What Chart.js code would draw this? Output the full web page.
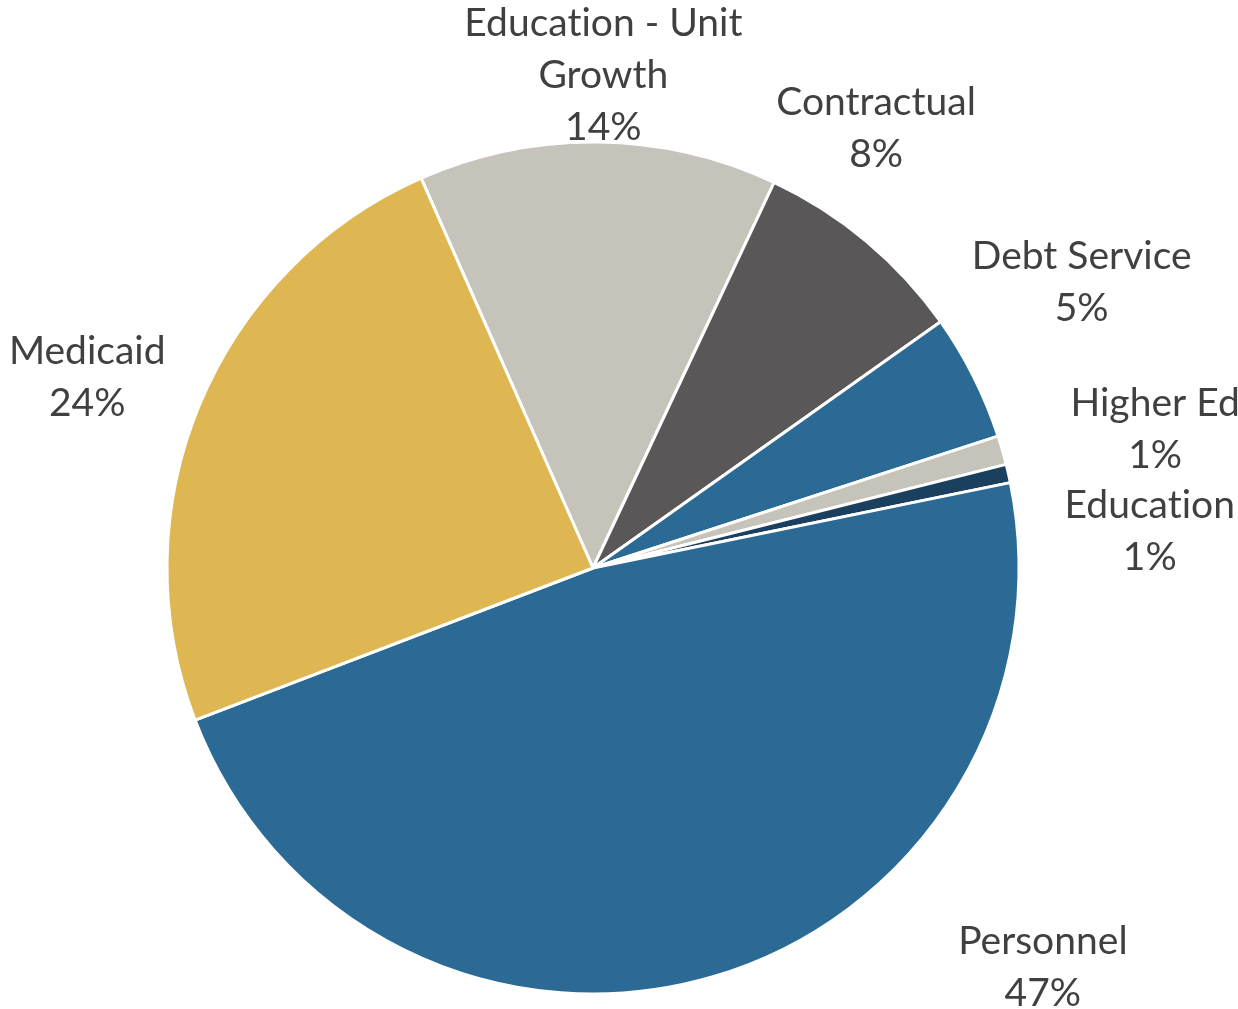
<!DOCTYPE html>
<html>
<head>
<meta charset="utf-8">
<script src="https://cdn.jsdelivr.net/npm/chart.js@4/dist/chart.umd.min.js"></script>
<style>
  html, body { margin: 0; padding: 0; background: #fff; }
  #wrap { width: 1238px; height: 1009px; position: relative; }
</style>
</head>
<body>
<div id="wrap"><canvas id="budgetPie"></canvas></div>
<script>
// budget share by category (percent)
const categories = [['Education - Unit', 'Growth'], 'Contractual', 'Debt Service', 'Higher Ed', 'Education', 'Personnel', 'Medicaid'];
const shares = [13.6, 8.2, 4.8, 1.1, 0.7, 47.4, 24.2];
const sliceColors = ['#c6c3bb', '#5a5759', '#2a6a94', '#c6c3bb', '#1b3f5e', '#2a6a94', '#deb652'];

// where each label sits: angle (deg, clockwise from 12 o'clock) and distance in radii
const labelAngle = [1.2, 32.7, 59.6, 76.0, 86.1, 131.5, 290.8];
const labelDist = [1.16, 1.23, 1.33, 1.36, 1.31, 1.41, 1.27];

const FONT_SIZE = 39;
const LINE_H = 52;

const total = shares.reduce((a, b) => a + b, 0);

const outsideLabels = {
  id: 'outsideLabels',
  afterDatasetsDraw(chart) {
    const ctx = chart.ctx;
    const arcs = chart.getDatasetMeta(0).data;
    ctx.save();
    ctx.font = FONT_SIZE + 'px Lato';
    ctx.letterSpacing = '0.01px'; // keeps "ti" from turning into a ligature
    ctx.fillStyle = '#404040';
    ctx.textAlign = 'center';
    ctx.textBaseline = 'alphabetic';
    const capHalf = FONT_SIZE * 0.72 / 2;
    arcs.forEach((arc, i) => {
      const { x, y, outerRadius } = arc.getProps(['x', 'y', 'outerRadius'], true);
      const a = labelAngle[i] * Math.PI / 180;
      const lx = x + labelDist[i] * outerRadius * Math.sin(a);
      const ly = y - labelDist[i] * outerRadius * Math.cos(a);
      const name = categories[i];
      const lines = (Array.isArray(name) ? name.slice() : [name]);
      lines.push(Math.round(shares[i] / total * 100) + '%');
      const top = ly - (lines.length - 1) * LINE_H / 2;
      lines.forEach((t, k) => ctx.fillText(t, lx, top + k * LINE_H + capHalf));
    });
    ctx.restore();
  }
};

new Chart(document.getElementById('budgetPie').getContext('2d'), {
  type: 'pie',
  data: {
    labels: categories,
    datasets: [{
      data: shares,
      backgroundColor: sliceColors,
      borderColor: '#ffffff',
      borderWidth: 3
    }]
  },
  options: {
    responsive: true,
    maintainAspectRatio: false,
    animation: false,
    rotation: -23.8,
    layout: { padding: { top: 140.5, bottom: 13.5, left: 0, right: 52 } },
    plugins: {
      legend: { display: false },
      tooltip: { enabled: false }
    }
  },
  plugins: [outsideLabels]
});
</script>
</body>
</html>
